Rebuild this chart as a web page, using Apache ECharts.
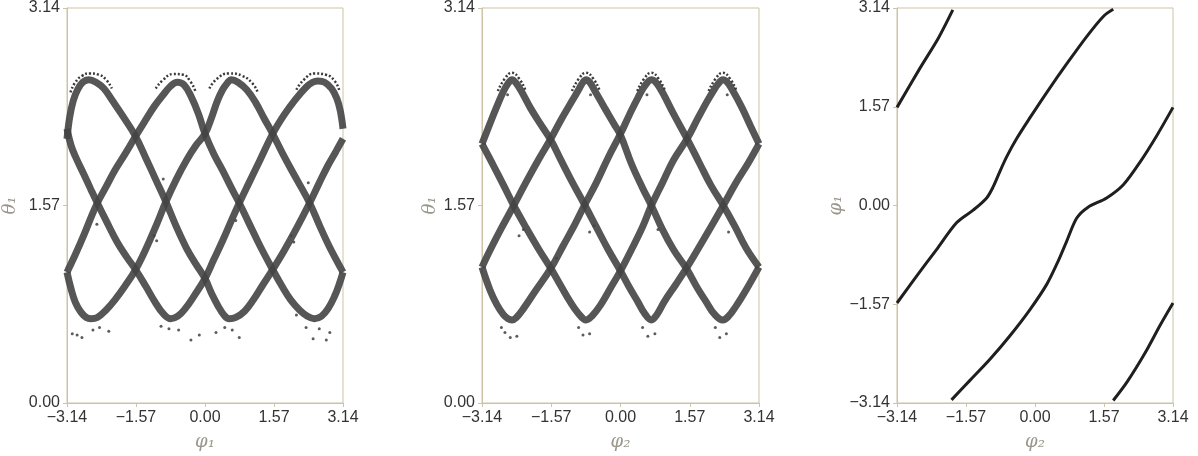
<!DOCTYPE html>
<html>
<head>
<meta charset="utf-8">
<script src="https://cdn.jsdelivr.net/npm/echarts@6/dist/echarts.min.js"></script>
<style>
html,body{margin:0;padding:0;background:#fff;}
#chart{width:1198px;height:456px;}
</style>
</head>
<body>
<div id="chart"></div>
<script>
// ---------- tick labels ----------
const phiTicks = ['\u22123.14', '\u22121.57', '0.00', '1.57', '3.14'];
const thetaTicks = ['0.00', '1.57', '3.14'];

// ---------- panel 1 : theta1 vs phi1 (four strands, [phi1, theta1]) ----------
const p1StrandP = [[-3.14,1.04],[-2.95,1.18],[-2.75,1.34],[-2.60,1.47],[-2.45,1.59],[-2.25,1.72],[-2.05,1.85],[-1.80,1.99],[-1.58,2.12],[-1.35,2.25],[-1.15,2.36],[-0.95,2.45],[-0.78,2.52],[-0.63,2.55],[-0.48,2.53],[-0.32,2.44],[-0.15,2.30],[0.00,2.14],[0.20,1.98],[0.40,1.85],[0.60,1.71],[0.78,1.59],[1.00,1.43],[1.25,1.25],[1.54,1.06],[1.75,0.93],[1.95,0.82],[2.15,0.74],[2.33,0.69],[2.49,0.67],[2.65,0.69],[2.80,0.75],[2.95,0.85],[3.05,0.94],[3.14,1.04]];
const p1StrandQ = [[-3.14,2.18],[-3.05,2.05],[-2.95,1.96],[-2.76,1.82],[-2.60,1.70],[-2.45,1.59],[-2.25,1.45],[-2.00,1.28],[-1.78,1.16],[-1.58,1.06],[-1.35,0.93],[-1.15,0.81],[-0.95,0.71],[-0.78,0.67],[-0.62,0.69],[-0.45,0.75],[-0.25,0.85],[0.00,0.99],[0.20,1.14],[0.40,1.29],[0.60,1.45],[0.78,1.59],[1.00,1.75],[1.25,1.93],[1.54,2.14],[1.80,2.29],[2.05,2.41],[2.30,2.51],[2.45,2.55],[2.57,2.56],[2.72,2.55],[2.88,2.50],[3.00,2.42],[3.08,2.32],[3.14,2.18]];
const p1StrandR = [[-3.14,2.10],[-3.08,2.27],[-3.00,2.40],[-2.90,2.49],[-2.78,2.55],[-2.64,2.57],[-2.48,2.55],[-2.30,2.50],[-2.10,2.40],[-1.85,2.27],[-1.58,2.12],[-1.35,1.95],[-1.10,1.76],[-0.89,1.60],[-0.65,1.40],[-0.42,1.23],[-0.20,1.10],[0.00,0.99],[0.15,0.87],[0.30,0.77],[0.43,0.70],[0.55,0.67],[0.70,0.68],[0.90,0.73],[1.10,0.82],[1.30,0.93],[1.54,1.06],[1.80,1.21],[2.10,1.40],[2.38,1.59],[2.60,1.75],[2.80,1.89],[2.98,2.00],[3.14,2.10]];
const p1StrandS = [[-3.14,1.04],[-3.05,0.91],[-2.95,0.80],[-2.82,0.72],[-2.70,0.68],[-2.60,0.67],[-2.45,0.68],[-2.25,0.74],[-2.05,0.82],[-1.82,0.93],[-1.58,1.06],[-1.35,1.22],[-1.10,1.42],[-0.89,1.60],[-0.65,1.78],[-0.42,1.93],[-0.20,2.05],[0.00,2.14],[0.15,2.27],[0.28,2.40],[0.40,2.49],[0.50,2.54],[0.60,2.57],[0.75,2.55],[0.95,2.49],[1.15,2.39],[1.35,2.26],[1.54,2.14],[1.80,1.96],[2.10,1.77],[2.38,1.59],[2.62,1.40],[2.82,1.25],[3.00,1.13],[3.14,1.04]];
const p1OuterArcs = [
  [[-3.06,2.47],[-2.95,2.55],[-2.80,2.60],[-2.62,2.62],[-2.42,2.61],[-2.25,2.57],[-2.12,2.50]],
  [[-1.12,2.50],[-0.95,2.57],[-0.72,2.615],[-0.50,2.61],[-0.34,2.56],[-0.22,2.48]],
  [[0.10,2.50],[0.28,2.58],[0.55,2.62],[0.85,2.60],[1.08,2.54],[1.20,2.47]],
  [[2.08,2.49],[2.25,2.57],[2.50,2.62],[2.75,2.61],[2.95,2.56],[3.06,2.48]]
];
const p1Stray = [[-3.02,0.55],[-2.80,0.52],[-2.19,0.57],[-2.91,0.54],[-2.55,0.58],[-2.40,0.60],[-1.16,1.33],[-1.10,1.29],[-0.32,0.50],[-0.13,0.54],[-0.82,0.59],[-0.60,0.58],[-1.00,0.61],[0.25,0.56],[0.45,0.60],[0.78,0.52],[0.62,0.58],[2.46,0.51],[2.76,0.50],[2.84,0.56],[2.30,0.60],[2.60,0.59],[2.08,0.70],[1.96,1.33],[2.02,1.28],[-2.46,1.42],[0.70,1.45],[-0.95,1.78],[2.35,1.75]];

// ---------- panel 2 : theta1 vs phi2 ----------
const p2Strand1 = [[-3.14,2.06],[-2.95,2.23],[-2.80,2.36],[-2.65,2.48],[-2.55,2.54],[-2.46,2.57],[-2.36,2.54],[-2.25,2.48],[-2.05,2.35],[-1.82,2.22],[-1.58,2.09],[-1.35,1.93],[-1.10,1.76],[-0.82,1.58],[-0.55,1.40],[-0.28,1.22],[0.00,1.05],[0.20,0.92],[0.40,0.80],[0.55,0.71],[0.70,0.66],[0.82,0.70],[1.00,0.81],[1.25,0.94],[1.51,1.08],[1.75,1.22],[2.05,1.40],[2.33,1.57],[2.60,1.74],[2.90,1.91],[3.14,2.06]];
const p2Strand2 = [[-3.14,1.08],[-2.95,1.22],[-2.70,1.39],[-2.42,1.57],[-2.15,1.75],[-1.85,1.94],[-1.58,2.10],[-1.35,2.25],[-1.10,2.40],[-0.95,2.49],[-0.85,2.55],[-0.78,2.57],[-0.70,2.55],[-0.58,2.48],[-0.35,2.34],[-0.15,2.22],[0.00,2.13],[0.25,1.90],[0.50,1.71],[0.70,1.57],[0.95,1.38],[1.20,1.22],[1.51,1.06],[1.75,0.91],[1.95,0.80],[2.12,0.71],[2.32,0.66],[2.45,0.69],[2.62,0.77],[2.85,0.90],[3.14,1.08]];
const p2Strand3 = [[-3.14,1.08],[-2.95,0.89],[-2.80,0.78],[-2.65,0.70],[-2.55,0.67],[-2.46,0.66],[-2.36,0.68],[-2.20,0.75],[-1.95,0.88],[-1.58,1.07],[-1.30,1.25],[-1.05,1.41],[-0.82,1.57],[-0.55,1.75],[-0.28,1.95],[0.00,2.14],[0.20,2.29],[0.40,2.43],[0.55,2.52],[0.70,2.57],[0.80,2.55],[0.95,2.47],[1.20,2.30],[1.51,2.10],[1.80,1.90],[2.05,1.73],[2.33,1.57],[2.60,1.40],[2.85,1.23],[3.14,1.08]];
const p2Strand4 = [[-3.14,2.06],[-2.90,1.90],[-2.65,1.73],[-2.42,1.57],[-2.15,1.40],[-1.85,1.22],[-1.58,1.07],[-1.35,0.93],[-1.15,0.81],[-0.95,0.71],[-0.78,0.66],[-0.65,0.69],[-0.45,0.78],[-0.20,0.93],[0.00,1.05],[0.25,1.22],[0.50,1.40],[0.70,1.57],[0.95,1.75],[1.20,1.93],[1.51,2.10],[1.75,2.26],[1.95,2.39],[2.12,2.49],[2.22,2.54],[2.32,2.57],[2.42,2.55],[2.55,2.48],[2.75,2.35],[2.95,2.20],[3.14,2.06]];
const p2OuterArcs = [
  [[-2.78,2.48],[-2.62,2.58],[-2.46,2.625],[-2.30,2.58],[-2.16,2.49]],
  [[-1.10,2.48],[-0.94,2.58],[-0.78,2.625],[-0.62,2.58],[-0.48,2.49]],
  [[0.38,2.48],[0.54,2.58],[0.70,2.625],[0.86,2.58],[1.00,2.49]],
  [[2.00,2.48],[2.16,2.58],[2.32,2.625],[2.48,2.58],[2.62,2.49]]
];
const p2Stray = [[-2.50,0.52],[-2.35,0.53],[-2.62,0.56],[-2.70,0.60],[-0.85,0.54],[-0.70,0.55],[-0.95,0.60],[0.62,0.53],[0.78,0.55],[0.50,0.60],[2.25,0.52],[2.40,0.55],[2.15,0.60],[-2.30,1.33],[-2.20,1.38],[-0.70,1.36],[-0.60,1.41],[-1.45,1.15],[0.85,1.38],[2.45,1.36],[-2.56,2.45],[-0.68,2.45],[0.60,2.45],[2.42,2.45]];

// ---------- panel 3 : phi1 vs phi2 (four winding branches, [phi2, phi1]) ----------
const p3Branch1 = [[-3.14,1.56],[-2.62,2.18],[-2.20,2.66],[-1.87,3.11]];
const p3Branch2 = [[-3.14,-1.55],[-2.69,-1.12],[-2.24,-0.70],[-1.78,-0.27],[-1.40,-0.07],[-1.10,0.12],[-0.95,0.30],[-0.80,0.54],[-0.64,0.78],[-0.42,1.06],[-0.11,1.40],[0.27,1.80],[0.72,2.25],[1.18,2.69],[1.56,3.01],[1.78,3.12]];
const p3Branch3 = [[-1.90,-3.09],[-1.48,-2.78],[-1.02,-2.44],[-0.57,-2.07],[-0.11,-1.65],[0.27,-1.25],[0.53,-0.88],[0.72,-0.57],[0.95,-0.20],[1.20,-0.03],[1.63,0.12],[2.01,0.33],[2.39,0.69],[2.77,1.11],[3.14,1.56]];
const p3Branch4 = [[1.78,-3.10],[2.10,-2.80],[2.50,-2.35],[2.85,-1.90],[3.14,-1.55]];

// ---------- build chart ----------
const chart = echarts.init(document.getElementById('chart'), null, {renderer: 'canvas'});
const frame = '#cdc4a6';
const labelFont = 'Liberation Sans, Arial, sans-serif';
const nameStyle = {color: '#9b968c', fontSize: 18, fontStyle: 'italic', fontFamily: 'DejaVu Serif, serif'};

function fmtPhi(v) { return phiTicks[Math.round((v + 3.14) / 1.57)]; }
function fmtTheta(v) { return thetaTicks[Math.round(v / 1.57)]; }

function makeAxis(gi, min, fmt, name, gap, isY) {
  return {
    type: 'value', gridIndex: gi, min: min, max: 3.14, interval: 1.57,
    name: name, nameLocation: 'middle', nameGap: gap, nameRotate: isY ? 90 : 0,
    nameTextStyle: nameStyle,
    axisLine: {show: true, onZero: false, lineStyle: {color: frame, width: 1}},
    axisTick: {show: true, length: 4, lineStyle: {color: frame}},
    splitLine: {show: false},
    axisLabel: {formatter: fmt, color: '#333', fontSize: 16, fontFamily: labelFont, margin: 7}
  };
}

const grids = [
  {left: 67, top: 4, width: 276, height: 400},
  {left: 482, top: 4, width: 277, height: 400},
  {left: 897, top: 4, width: 276, height: 400}
].map(g => Object.assign(g, {show: true, borderColor: frame, borderWidth: 1, backgroundColor: 'transparent'}));

function band(gi, data) {
  return {type: 'line', xAxisIndex: gi, yAxisIndex: gi, data: data, smooth: 0.4, showSymbol: false,
    lineStyle: {color: '#444', width: 7, opacity: 0.9}, silent: true, animation: false, clip: true};
}
function arc(gi, data) {
  return {type: 'line', xAxisIndex: gi, yAxisIndex: gi, data: data, smooth: 0.5, showSymbol: false,
    lineStyle: {color: '#3a3a3a', width: 2.5, type: [2, 2]}, silent: true, animation: false, clip: true};
}
function thin(gi, data) {
  return {type: 'line', xAxisIndex: gi, yAxisIndex: gi, data: data, smooth: 0.3, showSymbol: false,
    lineStyle: {color: '#1f1f1f', width: 3}, silent: true, animation: false, clip: true};
}
function dots(gi, data) {
  return {type: 'scatter', xAxisIndex: gi, yAxisIndex: gi, data: data, symbolSize: 3,
    itemStyle: {color: '#333'}, silent: true, animation: false};
}

const series = [
  band(0, p1StrandP), band(0, p1StrandQ), band(0, p1StrandR), band(0, p1StrandS), dots(0, p1Stray),
  band(1, p2Strand1), band(1, p2Strand2), band(1, p2Strand3), band(1, p2Strand4), dots(1, p2Stray),
  thin(2, p3Branch1), thin(2, p3Branch2), thin(2, p3Branch3), thin(2, p3Branch4)
];
p1OuterArcs.forEach(a => series.push(arc(0, a)));
p2OuterArcs.forEach(a => series.push(arc(1, a)));

chart.setOption({
  animation: false,
  backgroundColor: '#fff',
  grid: grids,
  xAxis: [
    makeAxis(0, -3.14, fmtPhi, '\u03c6\u2081', 30, false),
    makeAxis(1, -3.14, fmtPhi, '\u03c6\u2082', 30, false),
    makeAxis(2, -3.14, fmtPhi, '\u03c6\u2082', 30, false)
  ],
  yAxis: [
    makeAxis(0, 0, fmtTheta, '\u03b8\u2081', 48, true),
    makeAxis(1, 0, fmtTheta, '\u03b8\u2081', 43, true),
    makeAxis(2, -3.14, fmtPhi, '\u03c6\u2081', 48, true)
  ],
  series: series
});
</script>
</body>
</html>
